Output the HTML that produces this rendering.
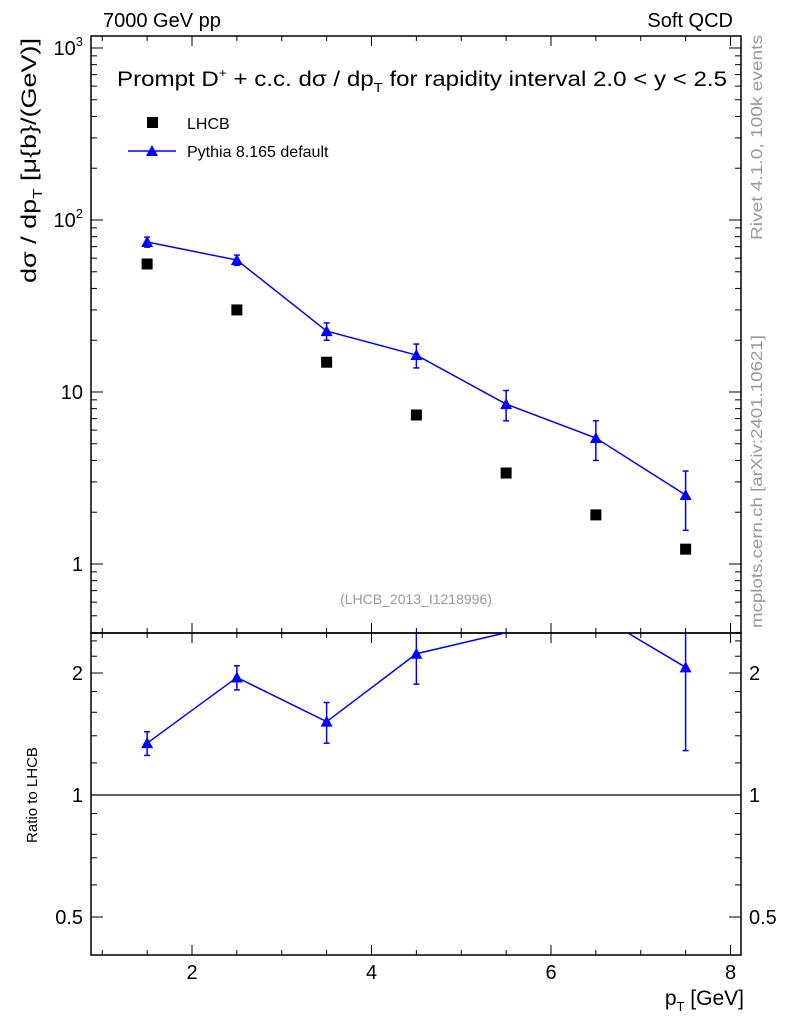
<!DOCTYPE html>
<html><head><meta charset="utf-8"><style>
body{margin:0;background:#fff;}
svg{display:block;font-family:"Liberation Sans",sans-serif;}
</style></head><body>
<svg id="c" width="786" height="1024" xmlns="http://www.w3.org/2000/svg">
<text x="103" y="27" font-size="20">7000 GeV pp</text>
<text x="733" y="27" font-size="20" text-anchor="end">Soft QCD</text>
<text x="117" y="86" font-size="21" textLength="610" lengthAdjust="spacingAndGlyphs">Prompt D<tspan font-size="12" dy="-9">+</tspan><tspan dy="9"> + c.c.  dσ / dp</tspan><tspan font-size="13" dy="6">T</tspan><tspan dy="-6"> for rapidity interval 2.0 &lt; y &lt; 2.5</tspan></text>
<text transform="translate(36,38) rotate(-90)" font-size="21" text-anchor="end" textLength="245" lengthAdjust="spacingAndGlyphs">dσ / dp<tspan font-size="13" dy="6">T</tspan><tspan dy="-6"> [μ{b}/(GeV)]</tspan></text>
<text transform="translate(37,795) rotate(-90)" font-size="15" text-anchor="middle">Ratio to LHCB</text>
<text x="744" y="1005" font-size="21" text-anchor="end">p<tspan font-size="13" dy="6">T</tspan><tspan dy="-6"> [GeV]</tspan></text>
<text transform="translate(762,240) rotate(-90)" font-size="16" fill="#999" textLength="205" lengthAdjust="spacingAndGlyphs">Rivet 4.1.0,  100k events</text>
<text transform="translate(762,628) rotate(-90)" font-size="16" fill="#999" textLength="293" lengthAdjust="spacingAndGlyphs">mcplots.cern.ch [arXiv:2401.10621]</text>
<text x="416" y="604" font-size="14" fill="#999" text-anchor="middle">(LHCB_2013_I1218996)</text>
<rect x="147" y="117" width="11" height="11" fill="#000"/>
<text x="187" y="129" font-size="16">LHCB</text>
<line x1="128" y1="151" x2="176" y2="151" stroke="#00f" stroke-width="1.5"/>
<polygon points="152,145 158,156 146,156" fill="#00f"/>
<text x="187" y="157" font-size="16">Pythia 8.165 default</text>
<g id="g"></g>
</svg>
<script>
const xs=[1.5,2.5,3.5,4.5,5.5,6.5,7.5];
const lhcb=[55.5,30,14.9,7.35,3.38,1.93,1.22];
const pythia=[74.5,58.5,22.6,16.4,8.5,5.4,2.52];
const pythiaErr=[5,4,2.6,2.6,1.7,1.4,0.95];
const xTicks=[2,4,6,8];
const yTicks=[1,10,100,1000];
const yTickLabels=["1","10","10²","10³"];
const rTicks=[0.5,1,2];
const NS="http://www.w3.org/2000/svg";
const g=document.getElementById('g');
const L=91,R=741,T=36,B=633,RB=955;
function X(v){return 192+(v-2)*89.75;}
function Y(v){return 564-Math.log10(v)*172;}
function RY(v){return 795-Math.log2(v)*122;}
function el(t,a,p){const e=document.createElementNS(NS,t);for(const k in a)e.setAttribute(k,a[k]);(p||g).appendChild(e);return e;}
let f1=el('rect',{x:L,y:T,width:R-L,height:B-T,fill:'none',stroke:'#000','stroke-width':1.5});


let f2=el('rect',{x:L,y:B,width:R-L,height:RB-B,fill:'none',stroke:'#000','stroke-width':1.5});


for(let v=1;v<=8.01;v+=0.5){const x=X(v);if(x<L||x>R)continue;const major=xTicks.includes(v);const l=major?10:5;
 for(const [a,b] of [[T,T+l],[B,B-l],[B,B+l],[RB,RB-l]]){let t=el('line',{x1:x,x2:x,y1:a,y2:b,stroke:'#000'});}}
xTicks.forEach(v=>{let t=el('text',{x:X(v),y:RB+24,'font-size':20,'text-anchor':'middle'});t.textContent=v;});
for(let d=-1;d<=3;d++)for(let m=1;m<10;m++){const v=m*Math.pow(10,d);const y=Y(v);if(y<T||y>B)continue;const l=m==1?12:6;
 for(const [a,b] of [[L,L+l],[R,R-l]]){let t=el('line',{x1:a,x2:b,y1:y,y2:y,stroke:'#000'});}}
yTicks.forEach((v,i)=>{let t=el('text',{x:L-8,y:Y(v)+7,'font-size':20,'text-anchor':'end'});
 if(i>=2){t.innerHTML='10<tspan font-size="13" dy="-9">'+(i)+'</tspan>';}else t.textContent=yTickLabels[i];
 });
for(const v of [0.5,0.6,0.7,0.8,0.9,1,1.2,1.4,1.6,1.8,2,2.2,2.4]){const y=RY(v);if(y<B||y>RB)continue;const l=rTicks.includes(v)?12:6;
 for(const [a,b] of [[L,L+l],[R,R-l]]){let t=el('line',{x1:a,x2:b,y1:y,y2:y,stroke:'#000'});}}
rTicks.forEach(v=>{for(const [x,a] of [[L-8,'end'],[R+8,'start']]){let t=el('text',{x:x,y:RY(v)+7,'font-size':20,'text-anchor':a});t.textContent=v;}});
let one=el('line',{x1:L,x2:R,y1:RY(1),y2:RY(1),stroke:'#000','stroke-width':1.2});


xs.forEach((x,i)=>{let r=el('rect',{x:X(x)-5.5,y:Y(lhcb[i])-5.5,width:11,height:11,fill:'#000'});});
let pl=el('polyline',{points:xs.map((x,i)=>X(x)+','+Y(pythia[i])).join(' '),fill:'none',stroke:'#00f','stroke-width':1.5});


function tri(cx,cy,name){let p=el('polygon',{points:`${cx},${cy-6} ${cx+6},${cy+5} ${cx-6},${cy+5}`,fill:'#00f'});}
function err(x,y1,y2,name){let e=el('line',{x1:x,x2:x,y1:y1,y2:y2,stroke:'#00f','stroke-width':1.5});
 for(const y of [y1,y2]){el('line',{x1:x-3,x2:x+3,y1:y,y2:y,stroke:'#00f','stroke-width':1.5});}}
xs.forEach((x,i)=>{err(X(x),Y(pythia[i]+pythiaErr[i]),Y(pythia[i]-pythiaErr[i]),'pythia-error');tri(X(x),Y(pythia[i]),'pythia-point');});
const ratio=xs.map((x,i)=>pythia[i]/lhcb[i]);
const cp=el('clipPath',{id:'rc'});el('rect',{x:L,y:B,width:R-L,height:RB-B},cp);
const rg=el('g',{'clip-path':'url(#rc)'});
let rl=el('polyline',{points:xs.map((x,i)=>X(x)+','+RY(ratio[i])).join(' '),fill:'none',stroke:'#00f','stroke-width':1.5},rg);


xs.forEach((x,i)=>{const re=pythiaErr[i]/lhcb[i];const y=RY(ratio[i]);if(y<B)return;
 let e=el('line',{x1:X(x),x2:X(x),y1:Math.max(B,RY(ratio[i]+re)),y2:RY(ratio[i]-re),stroke:'#00f','stroke-width':1.5},rg);
 for(const yy of [RY(ratio[i]+re),RY(ratio[i]-re)]){if(yy>B)el('line',{x1:X(x)-3,x2:X(x)+3,y1:yy,y2:yy,stroke:'#00f','stroke-width':1.5},rg);}
 let p=el('polygon',{points:`${X(x)},${y-6} ${X(x)+6},${y+5} ${X(x)-6},${y+5}`,fill:'#00f'},rg);});
</script>
</body></html>
